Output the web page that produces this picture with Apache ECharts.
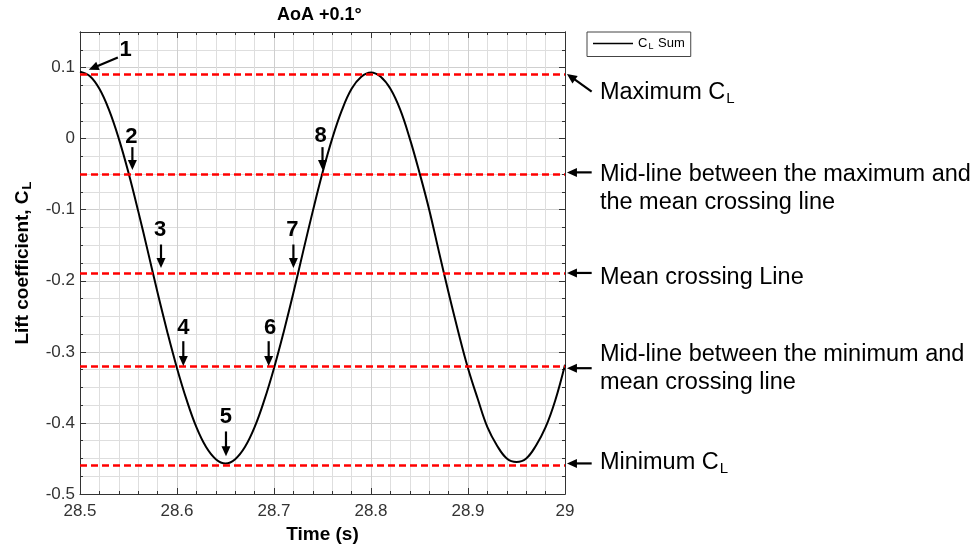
<!DOCTYPE html>
<html><head><meta charset="utf-8">
<script src="https://cdn.jsdelivr.net/npm/echarts@6/dist/echarts.min.js"></script>
<style>html,body{margin:0;padding:0;background:#fff}#c{width:977px;height:549px}</style>
</head><body><div id="c"></div>
<script>
// ---- data ----
const timeValues = [28.50,28.51,28.52,28.53,28.54,28.55,28.56,28.57,28.58,28.59,
  28.60,28.61,28.62,28.63,28.64,28.65,28.66,28.67,28.68,28.69,
  28.70,28.71,28.72,28.73,28.74,28.75,28.76,28.77,28.78,28.79,
  28.80,28.81,28.82,28.83,28.84,28.85,28.86,28.87,28.88,28.89,
  28.90,28.91,28.92,28.93,28.94,28.95,28.96,28.97,28.98,28.99,29.00];
const clSum = [0.094,0.088,0.070,0.040,0.000,-0.048,-0.102,-0.159,-0.217,-0.272,
  -0.323,-0.368,-0.406,-0.434,-0.451,-0.457,-0.451,-0.434,-0.406,-0.368,
  -0.323,-0.272,-0.217,-0.159,-0.102,-0.048,0.000,0.040,0.070,0.087,
  0.093,0.087,0.070,0.041,0.000,-0.048,-0.100,-0.159,-0.217,-0.272,
  -0.323,-0.366,-0.406,-0.432,-0.450,-0.455,-0.450,-0.432,-0.406,-0.368,-0.318];
const refLevels = [0.094, -0.0475, -0.189, -0.323, -0.457];
const refTexts = ['Maximum C{s|L}', 'Mid-line between the maximum and\nthe mean crossing line',
  'Mean crossing Line', 'Mid-line between the minimum and\nmean crossing line', 'Minimum C{s|L}'];
const refTextY = [0.0647, -0.0697, -0.196, -0.3237, -0.4564];
const numTexts = ['1','2','3','4','5','6','7','8'];
const numX = [28.547, 28.553, 28.5825, 28.6065, 28.6505, 28.696, 28.719, 28.748];
const numY = [0.125, 0.003, -0.128, -0.266, -0.391, -0.266, -0.128, 0.004];
const arrTailX = [28.539, 28.554, 28.5835, 28.6065, 28.6505, 28.6945, 28.720, 28.750];
const arrTailY = [0.114, -0.012, -0.149, -0.285, -0.412, -0.285, -0.149, -0.012];
const arrHeadX = [28.509, 28.554, 28.5835, 28.6065, 28.6505, 28.6945, 28.720, 28.750];
const arrHeadY = [0.097, -0.044, -0.182, -0.320, -0.447, -0.320, -0.182, -0.044];
const sideTailX = 29.0275, sideHeadX = 29.002, sideTextX = 29.036;
const sideTailY = [0.066, -0.0475, -0.189, -0.323, -0.457];
const sideHeadY = [0.091, -0.0475, -0.189, -0.323, -0.457];

const FF = '"Liberation Sans", Arial, sans-serif';
const curve = timeValues.map((t, i) => [t, clSum[i]]);
const arrows = arrTailX.map((x, i) => [x, arrTailY[i], arrHeadX[i], arrHeadY[i]])
  .concat(sideTailY.map((y, i) => [sideTailX, y, sideHeadX, sideHeadY[i]]));
const nums = numX.map((x, i) => [x, numY[i], i]);
const sides = refTextY.map((y, i) => [sideTextX, y, i]);

function arrowShape(p1, p2, w, head) {
  const dx = p2[0]-p1[0], dy = p2[1]-p1[1], L = Math.hypot(dx, dy);
  const ux = dx/L, uy = dy/L, bx = p2[0]-ux*head, by = p2[1]-uy*head;
  const nx = -uy, ny = ux, hw = head*0.45;
  return {type:'group', children:[
    {type:'line', shape:{x1:p1[0], y1:p1[1], x2:bx+ux*1, y2:by+uy*1}, style:{stroke:'#000', lineWidth:w}},
    {type:'polygon', shape:{points:[[p2[0],p2[1]],[bx+nx*hw,by+ny*hw],[bx-nx*hw,by-ny*hw]]}, style:{fill:'#000'}}
  ]};
}

const axLine = {show:true, onZero:false, lineStyle:{color:'#333', width:1}};
const chart = echarts.init(document.getElementById('c'), null, {renderer:'canvas'});
chart.setOption({
  animation:false,
  backgroundColor:'#fff',
  title:{text:'AoA +0.1°', left:277, top:6, padding:0,
    textStyle:{fontSize:18, fontWeight:'bold', color:'#000', fontFamily:FF}},
  legend:{data:[{name:'CL Sum', icon:'rect', itemStyle:{color:'#000'}}], left:587, top:32, orient:'horizontal',
    padding:[5,6,5,6], borderColor:'#444', borderWidth:1, borderRadius:0,
    itemWidth:40, itemHeight:1.6, itemGap:5,
    formatter:() => '{a|C}{s|L}{a| Sum}',
    textStyle:{color:'#000', fontFamily:FF, rich:{
      a:{fontSize:13, fontFamily:FF, color:'#000', lineHeight:14},
      s:{fontSize:9, fontFamily:FF, color:'#000', padding:[7,1,0,1]}}}},
  grid:{left:80, right:412, top:32, bottom:55, containLabel:false},
  xAxis:[{
    type:'value', min:28.5, max:29, interval:0.1, position:'bottom',
    axisLine:axLine,
    axisTick:{show:true, inside:true, length:6, lineStyle:{color:'#333'}},
    minorTick:{show:true, splitNumber:5, length:3, lineStyle:{color:'#333'}},
    splitLine:{show:true, lineStyle:{color:'#cfcfcf', width:1}},
    minorSplitLine:{show:true, lineStyle:{color:'#dedede', width:1}},
    axisLabel:{fontSize:17, color:'#333', margin:9, fontFamily:FF},
    name:'Time (s)', nameLocation:'middle', nameGap:31,
    nameTextStyle:{fontSize:19, fontWeight:'bold', color:'#000', fontFamily:FF}
  },{
    type:'value', min:28.5, max:29, interval:0.1, position:'top',
    axisLine:axLine,
    axisTick:{show:true, inside:true, length:6, lineStyle:{color:'#333'}},
    minorTick:{show:true, splitNumber:5, length:3, lineStyle:{color:'#333'}},
    splitLine:{show:false}, axisLabel:{show:false}
  }],
  yAxis:[{
    type:'value', min:-0.5, max:0.15, interval:0.025, position:'left',
    axisLine:axLine,
    axisTick:{show:true, inside:true, length:3, lineStyle:{color:'#333'}},
    splitLine:{show:true, lineStyle:{color:'#dedede', width:1}},
    axisLabel:{show:false}
  },{
    type:'value', min:-0.5, max:0.15, interval:0.1, position:'left',
    axisLine:axLine,
    axisTick:{show:true, inside:true, length:6, lineStyle:{color:'#333'}},
    splitLine:{show:true, lineStyle:{color:'#cfcfcf', width:1}},
    axisLabel:{show:true, fontSize:17, color:'#333', margin:5, fontFamily:FF, showMaxLabel:false},
    name:'Lift coefficient, C{s|L}', nameLocation:'middle', nameRotate:90, nameGap:46,
    nameTextStyle:{fontSize:19, fontWeight:'bold', color:'#000', fontFamily:FF,
      rich:{s:{fontSize:13, fontWeight:'bold', fontFamily:FF, color:'#000', padding:[9,0,0,1]}}}
  },{
    type:'value', min:-0.5, max:0.15, interval:0.025, position:'right',
    axisLine:axLine,
    axisTick:{show:true, inside:true, length:3, lineStyle:{color:'#333'}},
    splitLine:{show:false}, axisLabel:{show:false}
  },{
    type:'value', min:-0.5, max:0.15, interval:0.1, position:'right',
    axisLine:axLine,
    axisTick:{show:true, inside:true, length:6, lineStyle:{color:'#333'}},
    splitLine:{show:false}, axisLabel:{show:false}
  }],
  series:[{
    name:'CL Sum', type:'line', xAxisIndex:0, yAxisIndex:1, data:curve,
    showSymbol:false, symbol:'none', smooth:0.4,
    lineStyle:{color:'#000', width:2}, itemStyle:{color:'#000'}, z:3
  },{
    name:'refs', type:'line', xAxisIndex:0, yAxisIndex:1, data:[],
    markLine:{silent:true, symbol:['none','none'], animation:false,
      label:{show:false},
      lineStyle:{color:'#ff0000', width:2.5, type:[7,4]},
      data:refLevels.map(v => ({yAxis:v}))},
    z:4
  },{
    name:'arrows', type:'custom', xAxisIndex:0, yAxisIndex:1, clip:false, silent:true,
    data:arrows, encode:{x:[0,2], y:[1,3]},
    renderItem:(params, api) => {
      const p1 = api.coord([api.value(0), api.value(1)]);
      const p2 = api.coord([api.value(2), api.value(3)]);
      return arrowShape(p1, p2, 2.2, 10);
    }, z:5
  },{
    name:'nums', type:'custom', xAxisIndex:0, yAxisIndex:1, clip:false, silent:true,
    data:nums, encode:{x:0, y:1},
    renderItem:(params, api) => {
      const p = api.coord([api.value(0), api.value(1)]);
      return {type:'text', x:p[0], y:p[1], style:{text:numTexts[api.value(2)],
        fontSize:22, fontWeight:'bold', fontFamily:FF, fill:'#000', align:'center', verticalAlign:'middle'}};
    }, z:5
  },{
    name:'sides', type:'custom', xAxisIndex:0, yAxisIndex:1, clip:false, silent:true,
    data:sides, encode:{x:0, y:1},
    renderItem:(params, api) => {
      const p = api.coord([api.value(0), api.value(1)]);
      return {type:'text', x:p[0], y:p[1], style:{text:refTexts[api.value(2)],
        fontSize:23.5, fontFamily:FF, fill:'#000', align:'left', verticalAlign:'middle', lineHeight:28,
        rich:{s:{fontSize:15, fontFamily:FF, fill:'#000', padding:[12,0,0,1]}}}};
    }, z:5
  }]
});
</script></body></html>
